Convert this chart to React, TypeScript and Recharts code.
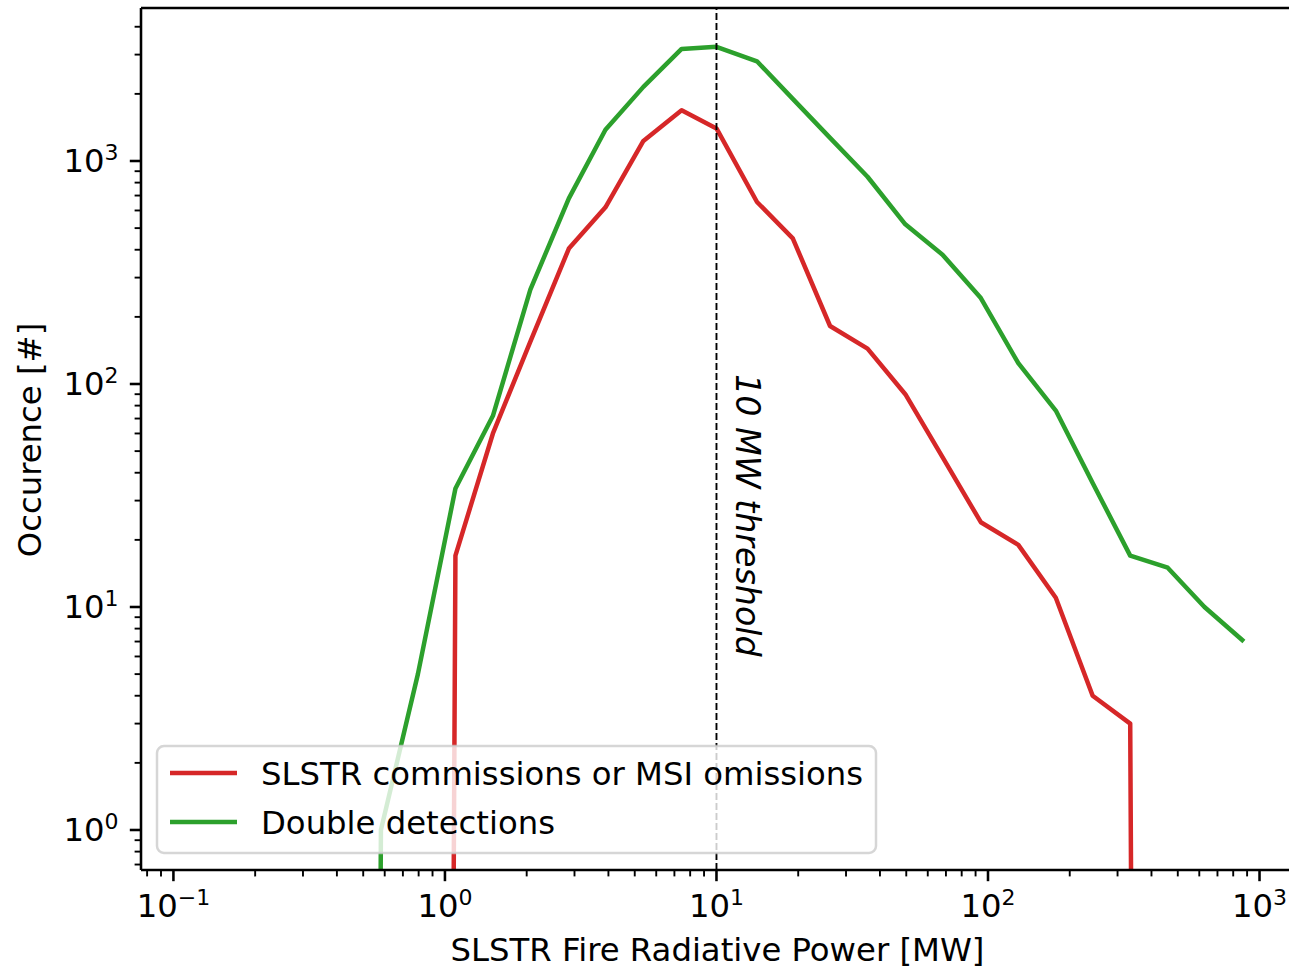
import React from 'react';
import { LineChart, Line, XAxis, YAxis, ReferenceLine } from 'recharts';

// Fire radiative power bin centres [MW] (log-spaced)
const FRP_BINS = [
  0.417, 0.581, 0.795, 1.093, 1.502, 2.063, 2.86, 3.9, 5.38, 7.44, 10, 14.1, 19.1, 26.2, 36.0,
  49.6, 68.0, 94.1, 129.3, 177.7, 242.9, 334, 459, 627, 876,
];

// Counts per bin
const COMMISSIONS = [
  0, 0, 0, 17, 60, 155, 405, 620, 1230, 1690, 1400, 655, 450, 182, 144, 90, 47, 24, 19, 11, 4, 3,
  0, 0, 0,
];
const DOUBLE_DETECTIONS = [
  0, 1, 5, 34, 72, 265, 680, 1380, 2150, 3180, 3250, 2800, 1900, 1270, 850, 520, 380, 243, 124,
  76, 36, 17, 15, 10, 7,
];

const SERIES = [
  { key: 'commissions', name: 'SLSTR commissions or MSI omissions', color: '#d62728', values: COMMISSIONS },
  { key: 'double', name: 'Double detections', color: '#2ca02c', values: DOUBLE_DETECTIONS },
];

const X_TICKS = [
  0.08, 0.09, 0.1, 0.2, 0.3, 0.4, 0.5, 0.6, 0.7, 0.8, 0.9, 1, 2, 3, 4, 5, 6, 7, 8, 9, 10, 20, 30,
  40, 50, 60, 70, 80, 90, 100, 200, 300, 400, 500, 600, 700, 800, 900, 1000,
];
const Y_TICKS = [
  0.7, 0.8, 0.9, 1, 2, 3, 4, 5, 6, 7, 8, 9, 10, 20, 30, 40, 50, 60, 70, 80, 90, 100, 200, 300,
  400, 500, 600, 700, 800, 900, 1000, 2000, 3000, 4000,
];

const X_DOMAIN: [number, number] = [0.07596, 1351];
const Y_DOMAIN: [number, number] = [0.6616, 4854];
const THRESHOLD_MW = 10;
const THRESHOLD_TEXT = '10 MW threshold';
const X_LABEL = 'SLSTR Fire Radiative Power [MW]';
const Y_LABEL = 'Occurence [#]';

// empty bins are clipped to a tiny positive value so the log scale can draw them
const LOG_FLOOR = 1e-30;

const rows = FRP_BINS.map((frp, i) => {
  const row: Record<string, number> = { frp };
  SERIES.forEach((s) => {
    const v = s.values[i];
    row[s.key] = v > 0 ? v : LOG_FLOOR;
  });
  return row;
});

const FONT = "'DejaVu Sans', sans-serif";
const FS = 32.3;
const SUP_FS = 22;
const MAJOR_LEN = 11.2;
const MINOR_LEN = 6.4;
const MAJOR_W = 2.56;
const MINOR_W = 1.9;
const SPINE_W = 2.56;

function decade(v: number) {
  const e = Math.round(Math.log10(v));
  const major = Math.abs(v / Math.pow(10, e) - 1) < 1e-6;
  return { e, major };
}

function expText(e: number) {
  return e < 0 ? '\u2212' + String(-e) : String(e);
}

function XTick(props: any) {
  const { x, y, payload } = props;
  const { e, major } = decade(payload.value);
  return (
    <g>
      <line
        x1={x}
        x2={x}
        y1={y}
        y2={y + (major ? MAJOR_LEN : MINOR_LEN)}
        stroke="#000"
        strokeWidth={major ? MAJOR_W : MINOR_W}
      />
      {major && (
        <text x={x} y={y + 47} textAnchor="middle" fontFamily={FONT} fontSize={FS} fill="#000">
          10
          <tspan dy={-12} fontSize={SUP_FS}>
            {expText(e)}
          </tspan>
        </text>
      )}
    </g>
  );
}

function YTick(props: any) {
  const { x, y, payload } = props;
  const { e, major } = decade(payload.value);
  return (
    <g>
      <line
        x1={x - (major ? MAJOR_LEN : MINOR_LEN)}
        x2={x}
        y1={y}
        y2={y}
        stroke="#000"
        strokeWidth={major ? MAJOR_W : MINOR_W}
      />
      {major && (
        <text x={x - 22.4} y={y + 11.5} textAnchor="end" fontFamily={FONT} fontSize={FS} fill="#000">
          10
          <tspan dy={-12} fontSize={SUP_FS}>
            {expText(e)}
          </tspan>
        </text>
      )}
    </g>
  );
}

function XLabel(props: any) {
  const vb = props.viewBox;
  return (
    <text x={vb.x + vb.width / 2 - 0.5} y={961} textAnchor="middle" fontFamily={FONT} fontSize={FS} fill="#000">
      {X_LABEL}
    </text>
  );
}

function YLabel(props: any) {
  const vb = props.viewBox;
  const cx = 41;
  const cy = vb.y + vb.height / 2 + 1;
  return (
    <text
      x={cx}
      y={cy}
      transform={`rotate(-90 ${cx} ${cy})`}
      textAnchor="middle"
      fontFamily={FONT}
      fontSize={FS}
      fill="#000"
    >
      {Y_LABEL}
    </text>
  );
}

function ThresholdLabel(props: any) {
  const vb = props.viewBox;
  const tx = vb.x + 19.5;
  const ty = vb.y + 366;
  return (
    <text
      x={tx}
      y={ty}
      transform={`rotate(90 ${tx} ${ty})`}
      textAnchor="start"
      fontFamily={FONT}
      fontStyle="italic"
      fontSize={33.3}
      fill="#000"
    >
      {THRESHOLD_TEXT}
    </text>
  );
}

function LegendBox() {
  const left = 157;
  const top = 746;
  const rowY = [773, 822];
  return (
    <svg
      width={1289}
      height={969}
      style={{ position: 'absolute', left: 0, top: 0, pointerEvents: 'none' }}
    >
      <rect
        x={left}
        y={top}
        width={719}
        height={107}
        rx={7}
        ry={7}
        fill="#ffffff"
        fillOpacity={0.8}
        stroke="#cccccc"
        strokeOpacity={0.8}
        strokeWidth={2.5}
      />
      {SERIES.map((s, i) => (
        <g key={s.key}>
          <line x1={170} x2={237} y1={rowY[i]} y2={rowY[i]} stroke={s.color} strokeWidth={4.5} />
          <text x={261} y={rowY[i] + 11.5} fontFamily={FONT} fontSize={FS} fill="#000">
            {s.name}
          </text>
        </g>
      ))}
    </svg>
  );
}

export default function App() {
  return (
    <div
      style={{
        position: 'absolute',
        left: 0,
        top: 0,
        width: 1289,
        height: 969,
        overflow: 'hidden',
        background: '#fff',
      }}
    >
      <LineChart width={1295} height={969} data={rows} margin={{ top: 8, right: 0, bottom: 0, left: 0 }}>
        <XAxis
          dataKey="frp"
          type="number"
          scale="log"
          domain={X_DOMAIN}
          allowDataOverflow
          ticks={X_TICKS}
          interval={0}
          tickSize={0}
          tickMargin={0}
          tickLine={false}
          tick={<XTick />}
          axisLine={{ stroke: '#000', strokeWidth: SPINE_W }}
          height={99}
          label={<XLabel />}
        />
        <YAxis
          type="number"
          scale="log"
          domain={Y_DOMAIN}
          allowDataOverflow
          ticks={Y_TICKS}
          interval={0}
          tickSize={0}
          tickMargin={0}
          tickLine={false}
          tick={<YTick />}
          axisLine={{ stroke: '#000', strokeWidth: SPINE_W }}
          width={141}
          label={<YLabel />}
        />
        <ReferenceLine y={Y_DOMAIN[1]} stroke="#000" strokeWidth={SPINE_W} />
        {SERIES.map((s) => (
          <Line
            key={s.key}
            dataKey={s.key}
            name={s.name}
            type="linear"
            stroke={s.color}
            strokeWidth={4.5}
            strokeLinejoin="round"
            dot={false}
            activeDot={false}
            isAnimationActive={false}
          />
        ))}
        <ReferenceLine
          x={THRESHOLD_MW}
          stroke="#000"
          strokeWidth={1.9}
          strokeDasharray="7 3"
          label={<ThresholdLabel />}
        />
      </LineChart>
      <LegendBox />
    </div>
  );
}
